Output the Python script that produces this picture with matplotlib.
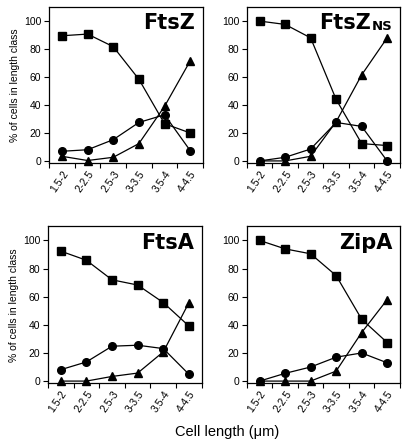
import numpy as np
import matplotlib
matplotlib.use('Agg')
from matplotlib import pyplot as plt

plt.rcParams['font.family'] = ['Liberation Sans', 'DejaVu Sans']

classes = ['1.5-2', '2-2.5', '2.5-3', '3-3.5', '3.5-4', '4-4.5']

# squares, circles, triangles per panel
ftsz_sq = [89.5, 90.7, 81.7, 58.4, 26.6, 20]
ftsz_ci = [6.9, 8, 15.2, 27.5, 33, 7.4]
ftsz_tr = [3.3, 0.3, 2.6, 12.4, 39, 71.5]

ftszns_sq = [100, 97.6, 88, 44, 12.4, 11]
ftszns_ci = [0, 2.6, 8.5, 27.5, 24.7, 0]
ftszns_tr = [0, 0, 3.3, 28, 61.5, 88]

ftsa_sq = [92.4, 85.9, 72, 68.3, 55.8, 39.1]
ftsa_ci = [8.1, 13.6, 24.8, 25.5, 23.1, 4.8]
ftsa_tr = [0, 0, 3.3, 5.7, 20.8, 55.8]

zipa_sq = [100, 94, 90.5, 75, 44, 27.4]
zipa_ci = [0, 5.5, 10, 17, 20, 13]
zipa_tr = [0, 0, 0, 7.1, 34.5, 57.9]

panels = [
    ('FtsZ', '', ftsz_sq, ftsz_ci, ftsz_tr, [0.121, 0.632, 0.379, 0.352]),
    ('FtsZ', 'NS', ftszns_sq, ftszns_ci, ftszns_tr, [0.608, 0.632, 0.377, 0.352]),
    ('FtsA', '', ftsa_sq, ftsa_ci, ftsa_tr, [0.118, 0.135, 0.379, 0.354]),
    ('ZipA', '', zipa_sq, zipa_ci, zipa_tr, [0.608, 0.135, 0.377, 0.354]),
]

fig = plt.figure(figsize=(4.06, 4.43), dpi=100)

for i, (name, sub, sq, ci, tr, pos) in enumerate(panels):
    ax = fig.add_axes(pos)
    x = np.arange(len(classes))
    for vals, m in [(sq, 's'), (ci, 'o'), (tr, '^')]:
        ax.plot(x, vals, color='black', lw=0.9, marker=m, markersize=5.5,
                clip_on=False, zorder=3)
    ax.set_xlim(-0.5, 5.5)
    ax.set_ylim(-1.5, 110)
    ax.set_yticks([0, 20, 40, 60, 80, 100])
    ax.set_xticks(x)
    ax.set_xticklabels(classes, rotation=55, ha='right', rotation_mode='anchor')
    ax.set_xticks(np.arange(-0.5, 6, 1), minor=True)
    ax.tick_params(axis='x', which='major', length=0, pad=4, labelsize=7.5)
    ax.tick_params(axis='x', which='minor', length=3.5, width=0.8, direction='out')
    ax.tick_params(axis='y', length=3.5, width=0.8, labelsize=7.5, pad=2)
    for s in ax.spines.values():
        s.set_linewidth(0.9)
    if i % 2 == 0:
        ax.set_ylabel('% of cells in length class', fontsize=7.5, labelpad=3)
    t = ax.text(0.95, 0.96, name, transform=ax.transAxes, ha='right', va='top',
                fontsize=15, fontweight='bold', family=['DejaVu Sans'])
    if sub:
        t.set_position((0.81, 0.96))
        ax.annotate(sub, xy=(1, 0), xycoords=t, xytext=(1, 0),
                    textcoords='offset points', ha='left', va='bottom',
                    fontsize=9.5, fontweight='bold', family=['DejaVu Sans'])

fig.text(0.56, 0.025, 'Cell length (\u03bcm)', ha='center', va='center', fontsize=10.5)

fig.savefig('out.png', dpi=100)
